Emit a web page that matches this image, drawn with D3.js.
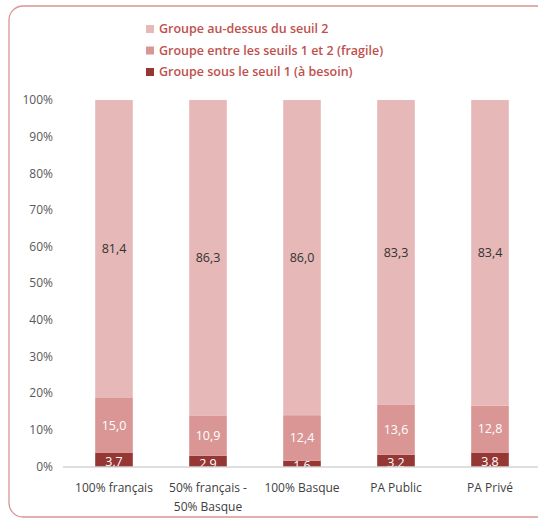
<!DOCTYPE html>
<html>
<head>
<meta charset="utf-8">
<script src="https://cdn.jsdelivr.net/npm/d3@7"></script>
<style>
body { margin: 0; background: #fff; }
text { font-family: "Open Sans", "DejaVu Sans", sans-serif; }
</style>
</head>
<body>
<script>
const width = 538, height = 521;

const categories = [["100% français"], ["50% français -", "50% Basque"], ["100% Basque"], ["PA Public"], ["PA Privé"]];
const besoin = [3.7, 2.9, 1.6, 3.2, 3.8];
const fragile = [15.0, 10.9, 12.4, 13.6, 12.8];
const dessus = [81.4, 86.3, 86.0, 83.3, 83.4];
const seriesNames = ["Groupe au-dessus du seuil 2", "Groupe entre les seuils 1 et 2 (fragile)", "Groupe sous le seuil 1 (à besoin)"];
const ticks = [0, 10, 20, 30, 40, 50, 60, 70, 80, 90, 100];

const colors = { besoin: "#953735", fragile: "#da9694", dessus: "#e6b8b7" };
const labelColors = { besoin: "#ffffff", fragile: "#ffffff", dessus: "#333333" };

const svg = d3.select("body").append("svg")
    .attr("width", width)
    .attr("height", height);

// frame
svg.append("rect")
    .attr("x", 9).attr("y", 6)
    .attr("width", 560).attr("height", 511)
    .attr("rx", 14)
    .attr("fill", "none")
    .attr("stroke", "#d99594")
    .attr("stroke-width", 1.3);

const x = d3.scaleBand()
    .domain(d3.range(categories.length))
    .range([67, 537])
    .paddingInner(0.6)
    .paddingOuter(0.3);

const y = d3.scaleLinear().domain([0, 100]).range([466.5, 100]);

svg.append("defs").append("clipPath").attr("id", "plot-clip")
  .append("rect").attr("x", 60).attr("y", 95).attr("width", 480).attr("height", 371.5);

// y axis labels
svg.append("g").selectAll("text")
    .data(ticks)
  .enter().append("text")
    .attr("x", 53)
    .attr("y", d => y(d))
    .attr("dy", "0.35em")
    .attr("text-anchor", "end")
    .attr("fill", "#595959")
    .style("font-size", "12px")
    .text(d => d + "%");

// stacked data
const rows = categories.map((c, i) => ({ i: i, besoin: besoin[i], fragile: fragile[i], dessus: dessus[i] }));
const stack = d3.stack().keys(["besoin", "fragile", "dessus"]);
const layers = stack(rows);

const g = svg.append("g");
layers.forEach(layer => {
  g.append("g").selectAll("rect")
      .data(layer)
    .enter().append("rect")
      .attr("x", d => x(d.data.i))
      .attr("width", x.bandwidth())
      .attr("y", d => y(Math.min(d[1], 100)))
      .attr("height", d => y(d[0]) - y(Math.min(d[1], 100)))
      .attr("fill", colors[layer.key]);
});

// x axis line
svg.append("line")
    .attr("x1", 63).attr("x2", 538)
    .attr("y1", 467).attr("y2", 467)
    .attr("stroke", "#bfbfbf");

// value labels
const lg = svg.append("g").attr("clip-path", "url(#plot-clip)");
layers.forEach(layer => {
  lg.append("g").selectAll("text")
      .data(layer)
    .enter().append("text")
      .attr("x", d => x(d.data.i) + x.bandwidth() / 2)
      .attr("y", d => y((d[0] + Math.min(d[1], 100)) / 2) + (layer.key === "besoin" ? 2 : 0))
      .attr("dy", "0.35em")
      .attr("text-anchor", "middle")
      .attr("fill", labelColors[layer.key])
      .style("font-size", "12.5px")
      .text(d => d.data[layer.key].toFixed(1).replace(".", ","));
});

// category labels
const cg = svg.append("g");
categories.forEach((lines, i) => {
  const t = cg.append("text")
      .attr("x", x(i) + x.bandwidth() / 2)
      .attr("y", 492)
      .attr("text-anchor", "middle")
      .attr("fill", "#404040")
      .style("font-size", "12px");
  lines.forEach((l, j) => {
    t.append("tspan")
      .attr("x", x(i) + x.bandwidth() / 2)
      .attr("dy", j === 0 ? 0 : 19)
      .text(l);
  });
});

// legend
const legend = svg.append("g").attr("transform", "translate(146,29)");
const legendKeys = ["dessus", "fragile", "besoin"];
seriesNames.forEach((name, i) => {
  const row = legend.append("g").attr("transform", `translate(0,${i * 21.5})`);
  row.append("rect")
      .attr("x", 0).attr("y", -4)
      .attr("width", 8).attr("height", 8)
      .attr("fill", colors[legendKeys[i]]);
  row.append("text")
      .attr("x", 13)
      .attr("dy", "0.35em")
      .attr("fill", "#c0504d")
      .style("font-size", "12.5px")
      .style("font-weight", "600")
      .text(name);
});
</script>
</body>
</html>
